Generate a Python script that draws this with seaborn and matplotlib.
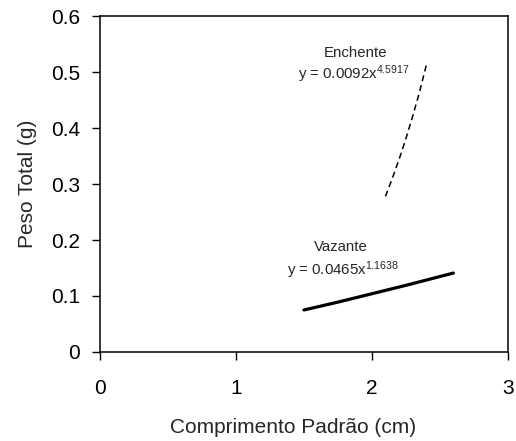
import matplotlib
matplotlib.use("Agg")
import matplotlib.pyplot as plt
import seaborn as sns
import pandas as pd

# Points
enchente_x = [2.10, 2.15, 2.20, 2.25, 2.30, 2.35, 2.40]
enchente_y = [0.278, 0.310, 0.344, 0.381, 0.421, 0.464, 0.512]

vazante_x = [1.50, 1.75, 2.00, 2.25, 2.60]
vazante_y = [0.075, 0.089, 0.104, 0.119, 0.141]

df_enc = pd.DataFrame({"x": enchente_x, "y": enchente_y})
df_vaz = pd.DataFrame({"x": vazante_x, "y": vazante_y})

sns.set_style("ticks")
plt.rcParams["font.family"] = ["Liberation Sans", "DejaVu Sans"]
plt.rcParams["mathtext.fontset"] = "custom"
plt.rcParams["mathtext.rm"] = "Liberation Sans"
plt.rcParams["mathtext.it"] = "Liberation Sans"

fig = plt.figure(figsize=(5.16, 4.41), dpi=100)
ax = fig.add_axes([0.194, 0.202, 0.790, 0.761])

sns.lineplot(data=df_enc, x="x", y="y", ax=ax, color="black",
             linestyle=(0, (4, 2.6)), linewidth=1.1, sort=True)
sns.lineplot(data=df_vaz, x="x", y="y", ax=ax, color="black",
             linewidth=2.3, sort=True)

ax.set_xlim(0, 3)
ax.set_ylim(0, 0.6)
ax.set_xticks([0, 1, 2, 3])
ax.set_yticks([0, 0.1, 0.2, 0.3, 0.4, 0.5, 0.6])
ax.set_yticklabels(["0", "0.1", "0.2", "0.3", "0.4", "0.5", "0.6"])
ax.tick_params(direction="out", length=5.5, width=1, labelsize=15, pad=9,
               colors="black")
ax.tick_params(axis="x", pad=14)
for s in ax.spines.values():
    s.set_color("black")
    s.set_linewidth(1.1)

ax.set_xlabel("Comprimento Padrão (cm)", fontsize=15)
ax.set_ylabel("Peso Total (g)", fontsize=15, labelpad=10)
ax.xaxis.set_label_coords(0.473, -0.197)

fs = 10.8
ax.text(1.88, 0.535, "Enchente", ha="center", va="center", fontsize=fs)
ax.text(1.87, 0.496, r"y = 0.0092x$^{\mathregular{4.5917}}$", ha="center",
        va="center", fontsize=fs)
ax.text(1.77, 0.187, "Vazante", ha="center", va="center", fontsize=fs)
ax.text(1.79, 0.146, r"y = 0.0465x$^{\mathregular{1.1638}}$", ha="center",
        va="center", fontsize=fs)

fig.savefig("out.png", dpi=100)
